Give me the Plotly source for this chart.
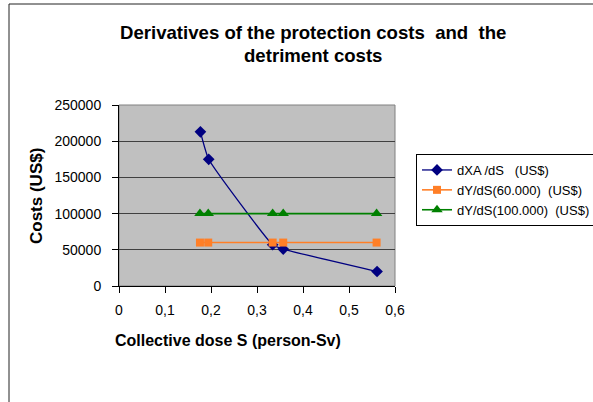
import plotly.graph_objects as go

# Collective dose S (person-Sv) at each protection option
dose_xa = [0.177, 0.195, 0.334, 0.357, 0.561]
dose_y = [0.176, 0.194, 0.334, 0.357, 0.560]

# Derivative of protection costs (US$)
dxa_ds = [213000, 175000, 57000, 51000, 20000]
# Derivative of detriment costs for alpha = 60.000 and 100.000 US$/person-Sv
dy_ds_60 = [60000, 60000, 60000, 60000, 60000]
dy_ds_100 = [100000, 100000, 100000, 100000, 100000]

x_ticks = [0, 0.1, 0.2, 0.3, 0.4, 0.5, 0.6]
y_ticks = [0, 50000, 100000, 150000, 200000, 250000]

FONT = "Arial, 'Liberation Sans', sans-serif"
NB = "\u00a0"

fig = go.Figure()
fig.add_trace(go.Scatter(
    x=dose_xa, y=dxa_ds, mode="lines+markers",
    name=f"dXA /dS{NB*3}(US$)", legendgroup="a",
    line=dict(color="#000080", width=1.3, shape="spline", smoothing=0.4),
    marker=dict(symbol="diamond", size=9, color="#000080"),
))
fig.add_trace(go.Scatter(
    x=dose_y, y=dy_ds_60, mode="lines+markers",
    name=f"dY/dS(60.000){NB*2}(US$)", legendgroup="b",
    line=dict(color="#FF7F27", width=1.6),
    marker=dict(symbol="square", size=8, color="#FF7F27"),
))
fig.add_trace(go.Scatter(
    x=dose_y, y=dy_ds_100, mode="lines+markers",
    name=f"dY/dS(100.000){NB*2}(US$)", legendgroup="c",
    line=dict(color="#008000", width=1.6),
    marker=dict(symbol="triangle-up", size=10, color="#008000"),
))

L, R, T, B = 119, 395, 105, 286
W, H = 593, 402
pw, ph = R - L, B - T


def px(x):
    return (x - L) / pw


def py(y):
    return (B - y) / ph


fig.update_layout(
    width=W, height=H,
    margin=dict(l=L, r=W - R, t=T, b=H - B, autoexpand=False),
    paper_bgcolor="white", plot_bgcolor="#C0C0C0",
    separators=",.",
    font=dict(family=FONT, size=14, color="black"),
    showlegend=True,
    legend=dict(
        x=px(416), y=py(154), xanchor="left", yanchor="top",
        bordercolor="black", borderwidth=1, bgcolor="white",
        font=dict(size=13), tracegroupgap=0, traceorder="grouped",
    ),
    xaxis=dict(
        range=[0, 0.6], tickvals=x_ticks, showgrid=False, zeroline=False,
        showline=True, linecolor="black", linewidth=1,
        ticks="outside", ticklen=6, tickcolor="black", ticklabelstandoff=5,
    ),
    yaxis=dict(
        range=[0, 250000], tickvals=y_ticks, tickformat="d",
        showgrid=True, gridcolor="#404040", gridwidth=1, zeroline=False,
        showline=True, linecolor="black", linewidth=1,
        ticks="outside", ticklen=6, tickcolor="black", ticklabelstandoff=8,
    ),
    shapes=[
        # plot area frame
        dict(type="rect", xref="paper", yref="paper", x0=0, x1=1, y0=0, y1=1,
             line=dict(color="#808080", width=1), layer="below"),
        # outer chart frame
        dict(type="line", xref="paper", yref="paper",
             x0=px(9), x1=px(9), y0=py(4), y1=py(H + 5),
             line=dict(color="#222222", width=1)),
        dict(type="line", xref="paper", yref="paper",
             x0=px(9), x1=px(W + 5), y0=py(4), y1=py(4),
             line=dict(color="#222222", width=1)),
    ],
    annotations=[
        dict(text=f"Derivatives of the protection costs{NB}{NB}and{NB}{NB}the",
             xref="paper", yref="paper", x=px(313), y=py(32),
             xanchor="center", yanchor="middle", showarrow=False,
             font=dict(size=18.6, family=FONT, color="black", weight="bold")),
        dict(text="detriment costs",
             xref="paper", yref="paper", x=px(313), y=py(56),
             xanchor="center", yanchor="middle", showarrow=False,
             font=dict(size=18.6, family=FONT, color="black", weight="bold")),
        dict(text="Collective dose S (person-Sv)",
             xref="paper", yref="paper", x=px(228), y=py(340),
             xanchor="center", yanchor="middle", showarrow=False,
             font=dict(size=16, family=FONT, color="black", weight="bold")),
        dict(text="Costs (US$)", textangle=-90,
             xref="paper", yref="paper", x=px(36), y=py(196),
             xanchor="center", yanchor="middle", showarrow=False,
             font=dict(size=17, family=FONT, color="black", weight="bold")),
    ],
)

fig.write_html("out.html")
